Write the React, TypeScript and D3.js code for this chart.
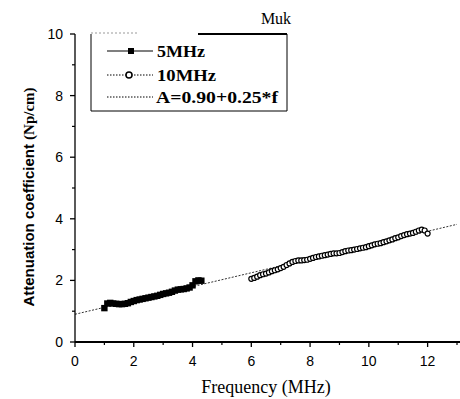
import React from "react";
import * as d3 from "d3";

const f5 = [1.0,1.1,1.2,1.3,1.4,1.5,1.6,1.7,1.8,1.9,2.0,2.1,2.2,2.3,2.4,2.5,2.6,2.7,2.8,2.9,3.0,3.1,3.2,3.3,3.4,3.5,3.6,3.7,3.8,3.9,4.0,4.1,4.2,4.3];
const a5 = [1.10,1.25,1.27,1.25,1.24,1.23,1.23,1.24,1.26,1.30,1.33,1.36,1.38,1.40,1.42,1.44,1.46,1.48,1.50,1.53,1.56,1.58,1.60,1.63,1.67,1.70,1.71,1.72,1.74,1.77,1.84,1.97,2.00,1.99];

const f10 = [6.0,6.1,6.2,6.3,6.4,6.5,6.6,6.7,6.8,6.9,7.0,7.1,7.2,7.3,7.4,7.5,7.6,7.7,7.8,7.9,8.0,8.1,8.2,8.3,8.4,8.5,8.6,8.7,8.8,8.9,9.0,9.1,9.2,9.3,9.4,9.5,9.6,9.7,9.8,9.9,10.0,10.1,10.2,10.3,10.4,10.5,10.6,10.7,10.8,10.9,11.0,11.1,11.2,11.3,11.4,11.5,11.6,11.7,11.8,11.9,12.0];
const a10 = [2.05,2.08,2.12,2.17,2.20,2.22,2.26,2.30,2.33,2.36,2.40,2.44,2.50,2.55,2.60,2.63,2.65,2.65,2.66,2.67,2.70,2.73,2.76,2.78,2.80,2.82,2.84,2.86,2.88,2.88,2.89,2.92,2.95,2.97,2.98,3.00,3.02,3.04,3.06,3.08,3.11,3.14,3.17,3.19,3.21,3.24,3.27,3.30,3.33,3.37,3.40,3.44,3.47,3.50,3.52,3.54,3.58,3.62,3.65,3.62,3.52];

// fit line as drawn in the picture (endpoints)
const fitF = [0, 13];
const fitA = [0.90, 3.82];

const xTicks = [0, 2, 4, 6, 8, 10, 12];
const xMinor = [1, 3, 5, 7, 9, 11, 13];
const yTicks = [0, 2, 4, 6, 8, 10];
const yMinor = [1, 3, 5, 7, 9];

const legendLabels = ["5MHz", "10MHz", "A=0.90+0.25*f"];
const titleText = "Muk";
const xTitle = "Frequency (MHz)";

export default function App() {
  const W = 460, H = 399;
  const x = d3.scaleLinear().domain([0, 13]).range([75, 457]);
  const y = d3.scaleLinear().domain([0, 10]).range([342, 34]);

  const line = d3.line<[number, number]>().x(d => x(d[0])).y(d => y(d[1]));
  const s5: [number, number][] = f5.map((f, i) => [f, a5[i]]);
  const s10: [number, number][] = f10.map((f, i) => [f, a10[i]]);
  const fit: [number, number][] = fitF.map((f, i) => [f, fitA[i]]);

  const sans = "'Liberation Sans', Arial, sans-serif";
  const serif = "'Liberation Serif', 'Times New Roman', serif";
  const legendWidths = [48, 59, 122];

  return (
    <svg width={W} height={H} style={{ position: "absolute", left: 0, top: 0, background: "#fff" }}>
      <rect width={W} height={H} fill="#fff" />
      {/* fit line */}
      <path d={line(fit) || ""} fill="none" stroke="#333" strokeWidth={1} strokeDasharray="2,1.5" />
      {/* 5MHz series */}
      <path d={line(s5) || ""} fill="none" stroke="#000" strokeWidth={1.5} />
      {s5.map((d, i) => (
        <rect key={"s" + i} x={x(d[0]) - 3.2} y={y(d[1]) - 3.2} width={6.4} height={6.4} fill="#000" />
      ))}
      {/* 10MHz series */}
      <path d={line(s10) || ""} fill="none" stroke="#000" strokeWidth={1} strokeDasharray="1.5,1" />
      {s10.map((d, i) => (
        <circle key={"c" + i} cx={x(d[0])} cy={y(d[1])} r={2.5} fill="#fff" stroke="#000" strokeWidth={1.2} />
      ))}

      {/* axes */}
      <line x1={75} x2={460} y1={y(0)} y2={y(0)} stroke="#000" strokeWidth={1.8} />
      <line x1={75} x2={75} y1={y(0)} y2={y(10)} stroke="#000" strokeWidth={1.3} />
      {xTicks.map(t => (
        <g key={"xt" + t}>
          <line x1={x(t)} x2={x(t)} y1={y(0)} y2={y(0) + 5} stroke="#000" strokeWidth={1.3} />
          <text x={x(t)} y={366} textAnchor="middle" fontFamily={sans} fontSize={14}>{t}</text>
        </g>
      ))}
      {xMinor.map(t => (
        <line key={"xm" + t} x1={x(t)} x2={x(t)} y1={y(0)} y2={y(0) + 3} stroke="#000" strokeWidth={1.2} />
      ))}
      {yTicks.map(t => (
        <g key={"yt" + t}>
          <line x1={70} x2={75} y1={y(t)} y2={y(t)} stroke="#000" strokeWidth={1.3} />
          <text x={63} y={y(t) + 5} textAnchor="end" fontFamily={sans} fontSize={14}>{t}</text>
        </g>
      ))}
      {yMinor.map(t => (
        <line key={"ym" + t} x1={72} x2={75} y1={y(t)} y2={y(t)} stroke="#000" strokeWidth={1.2} />
      ))}

      {/* titles */}
      <text x={276} y={24} textAnchor="middle" fontFamily={serif} fontSize={16}>{titleText}</text>
      <text x={266} y={393} textAnchor="middle" fontFamily={serif} fontSize={18}>{xTitle}</text>
      <text transform="translate(34,197) rotate(-90)" textAnchor="middle" fontSize={15} fontWeight="bold">
        <tspan fontFamily={sans}>Attenuation coefficient </tspan>
        <tspan fontFamily={serif}>(Np/cm)</tspan>
      </text>

      {/* legend */}
      <rect x={91} y={34} width={196} height={77} fill="#fff" stroke="none" />
      <line x1={91} x2={91} y1={34} y2={111} stroke="#000" strokeWidth={1} />
      <line x1={287} x2={287} y1={34} y2={111} stroke="#000" strokeWidth={1} />
      <line x1={91} x2={287} y1={111} y2={111} stroke="#000" strokeWidth={1} />
      <line x1={91} x2={137} y1={33} y2={33} stroke="#999" strokeWidth={1} strokeDasharray="2,2" />
      <line x1={198} x2={287} y1={34} y2={34} stroke="#000" strokeWidth={2} />
      <line x1={107} x2={153} y1={51} y2={51} stroke="#000" strokeWidth={1.2} />
      <rect x={128} y={48} width={6} height={6} fill="#000" />
      <text x={157} y={57} fontFamily={serif} fontSize={17} fontWeight="bold" textLength={legendWidths[0]} lengthAdjust="spacingAndGlyphs">{legendLabels[0]}</text>
      <line x1={107} x2={153} y1={75} y2={75} stroke="#000" strokeWidth={1} strokeDasharray="1.5,1.5" />
      <circle cx={129} cy={75} r={3} fill="#fff" stroke="#000" strokeWidth={1.5} />
      <text x={157} y={81} fontFamily={serif} fontSize={17} fontWeight="bold" textLength={legendWidths[1]} lengthAdjust="spacingAndGlyphs">{legendLabels[1]}</text>
      <line x1={107} x2={153} y1={97} y2={97} stroke="#000" strokeWidth={1} strokeDasharray="1.5,1.5" />
      <text x={156} y={103} fontFamily={serif} fontSize={17} fontWeight="bold" textLength={legendWidths[2]} lengthAdjust="spacingAndGlyphs">{legendLabels[2]}</text>
    </svg>
  );
}
